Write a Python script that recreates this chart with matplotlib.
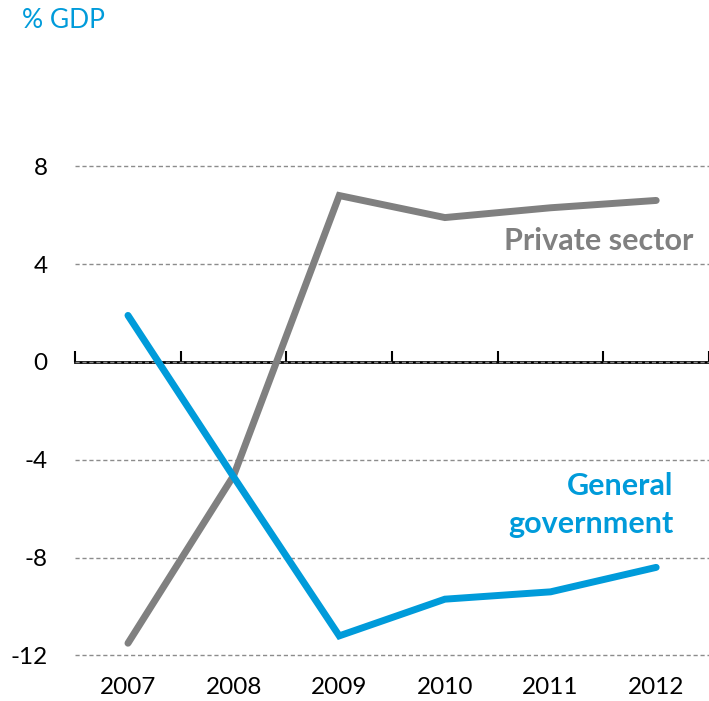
import matplotlib
matplotlib.use("Agg")
import matplotlib.pyplot as plt

years = ["2007", "2008", "2009", "2010", "2011", "2012"]
private_sector = [-11.5, -4.65, 6.8, 5.9, 6.3, 6.6]
general_government = [1.9, -4.7, -11.2, -9.7, -9.4, -8.4]
y_ticks = [-12, -8, -4, 0, 4, 8]

blue = "#009BDA"
grey = "#808080"

plt.rcParams["font.family"] = ["Lato", "DejaVu Sans"]
plt.rcParams["axes.unicode_minus"] = False

fig = plt.figure(figsize=(7.09, 7.01), dpi=100)
ax = fig.add_axes([0.106, 0.0615, 0.894, 0.8445])

x = list(range(len(years)))
ax.plot(x, private_sector, color=grey, lw=5, solid_capstyle="round", solid_joinstyle="miter", zorder=3)
ax.plot(x, general_government, color=blue, lw=5, solid_capstyle="round", solid_joinstyle="miter", zorder=3)

ax.set_xlim(-0.5, len(years) - 0.5)
ax.set_ylim(-12.1, 12.1)
ax.set_yticks(y_ticks)
ax.set_xticks(x)
ax.set_xticklabels(years)
ax.tick_params(axis="both", length=0, labelsize=17.5)
ax.tick_params(axis="x", pad=14)
ax.tick_params(axis="y", pad=20)
for s in ax.spines.values():
    s.set_visible(False)
ax.yaxis.grid(True, color="#8c8c8c", lw=1, linestyle=(0, (3, 2)))
ax.set_axisbelow(True)

# zero line with ticks between categories
zero = ax.secondary_xaxis(0.5)
zero.set_xticks([i - 0.5 for i in range(len(years) + 1)])
zero.tick_params(length=8, width=1.5, labeltop=False, labelbottom=False, color="black")
zero.spines["top"].set_linewidth(2)
zero.spines["top"].set_color("black")

ax.text(5.35, 4.95, "Private sector", color=grey, fontsize=22, fontweight="bold",
        ha="right", va="center")
ax.text(5.16, -5.85, "General\ngovernment", color=blue, fontsize=22, fontweight="bold",
        ha="right", va="center", linespacing=1.45)

fig.text(22 / 709, 1 - 20 / 701, "% GDP", color=blue, fontsize=19, ha="left", va="center")

fig.savefig("out.png", dpi=100)
